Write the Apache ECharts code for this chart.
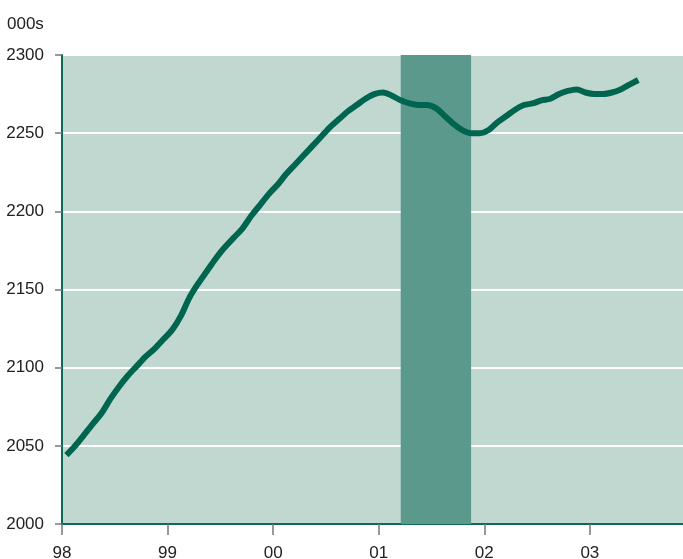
<!DOCTYPE html>
<html>
<head>
<meta charset="utf-8">
<script src="https://cdn.jsdelivr.net/npm/echarts@6/dist/echarts.min.js"></script>
<style>
  html, body { margin: 0; padding: 0; background: #fff; }
  #chart { width: 683px; height: 559px; }
</style>
</head>
<body>
<div id="chart"></div>
<script>
(function(){
    // 月份 (YYYY-MM) 和就业人数 (000s)
    var months = [
        '1998-01','1998-02','1998-03','1998-04','1998-05','1998-06','1998-07','1998-08','1998-09','1998-10','1998-11','1998-12',
        '1999-01','1999-02','1999-03','1999-04','1999-05','1999-06','1999-07','1999-08','1999-09','1999-10','1999-11','1999-12',
        '2000-01','2000-02','2000-03','2000-04','2000-05','2000-06','2000-07','2000-08','2000-09','2000-10','2000-11','2000-12',
        '2001-01','2001-02','2001-03','2001-04','2001-05','2001-06','2001-07','2001-08','2001-09','2001-10','2001-11','2001-12',
        '2002-01','2002-02','2002-03','2002-04','2002-05','2002-06','2002-07','2002-08','2002-09','2002-10','2002-11','2002-12',
        '2003-01','2003-02','2003-03','2003-04','2003-05','2003-06'
    ];
    var employment = [
        2044, 2050, 2057, 2064, 2071, 2080, 2088, 2095, 2101, 2107, 2112, 2118,
        2124, 2133, 2145, 2154, 2162, 2170, 2177, 2183, 2189, 2197, 2204, 2211,
        2217, 2224, 2230, 2236, 2242, 2248, 2254, 2259, 2264, 2268, 2272, 2275,
        2276, 2274, 2271, 2269, 2268, 2268, 2266, 2261, 2256, 2252, 2250, 2250,
        2252, 2257, 2261, 2265, 2268, 2269, 2271, 2272, 2275, 2277, 2278, 2276,
        2275, 2275, 2276, 2278, 2281, 2284
    ];
    var recession = ['2001-03', '2001-11'];
    var yearTicks = [1998, 1999, 2000, 2001, 2002, 2003];

    // 月份转换成年份小数（月中）
    function toYear(m) {
        var p = m.split('-');
        return +p[0] + (+p[1] - 0.5) / 12;
    }

    var seriesData = months.map(function(m, i){ return [toYear(m), employment[i]]; });

    var font = '"Liberation Sans", Arial, sans-serif';
    var myChart = echarts.init(document.getElementById('chart'));

    var option = {
        animation: false,
        title: {
            text: '000s',
            left: 2,
            top: 11,
            textStyle: { fontFamily: font, fontSize: 17, fontWeight: 'normal', color: '#222' }
        },
        grid: {
            left: 62, top: 55, right: -4, bottom: 35,
            outerBoundsMode: 'none',
            containLabel: false,
            show: true,
            backgroundColor: '#c1d8d1',
            borderColor: '#0b6b55',
            borderWidth: 2
        },
        xAxis: {
            type: 'value',
            min: yearTicks[0],
            max: 2003.92,
            interval: 1,
            axisLine: { show: true, lineStyle: { color: '#0b6b55', width: 2 } },
            axisTick: { show: true, length: 11, lineStyle: { color: '#777', width: 1.5 } },
            axisLabel: {
                margin: 21,
                fontFamily: font, fontSize: 17, color: '#222',
                formatter: function(v){
                    return yearTicks.indexOf(v) >= 0 ? String(v).slice(2) : '';
                }
            },
            splitLine: { show: false }
        },
        yAxis: {
            type: 'value',
            min: 2000,
            max: 2300,
            interval: 50,
            axisLine: { show: true, lineStyle: { color: '#0b6b55', width: 2 } },
            axisTick: { show: true, length: 7, lineStyle: { color: '#777', width: 1.5 } },
            axisLabel: {
                margin: 18, fontFamily: font, fontSize: 17, color: '#222',
                formatter: function(v){ return String(v); }
            },
            splitLine: { show: true, lineStyle: { color: '#ffffff', width: 2 } }
        },
        series: [{
            type: 'line',
            data: seriesData,
            showSymbol: false,
            smooth: 0.3,
            lineStyle: { color: '#00654f', width: 6 },
            z: 3,
            markArea: {
                silent: true,
                itemStyle: { color: '#5b998d' },
                data: [[{ xAxis: toYear(recession[0]) }, { xAxis: toYear(recession[1]) }]]
            }
        }]
    };
    myChart.setOption(option);
    window.addEventListener('resize', function(){ myChart.resize(); });
})();
</script>
</body>
</html>
